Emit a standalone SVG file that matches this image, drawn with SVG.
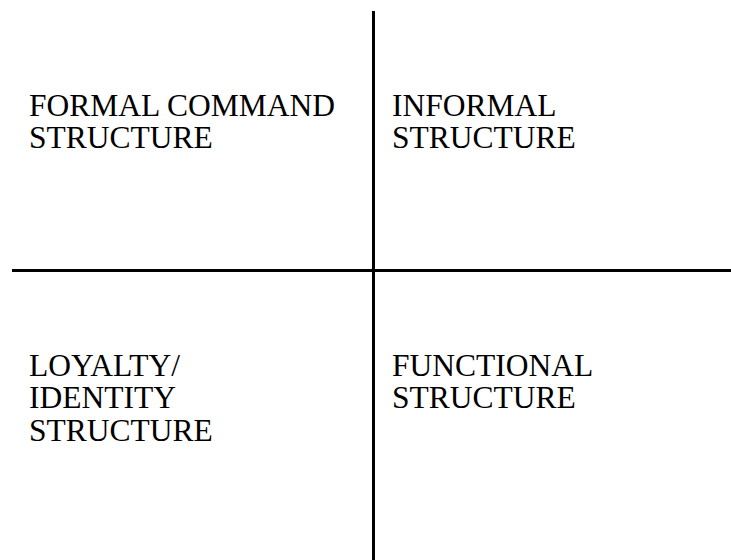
<svg xmlns="http://www.w3.org/2000/svg" width="731" height="560" viewBox="0 0 731 560">
<style>
.t{font-family:"Liberation Serif","Times New Roman",serif;font-size:31.5px;fill:#000}
.l{stroke:#000;stroke-width:3;fill:none}
</style>
<rect width="731" height="560" fill="#fff"/>
<g id="connectors">
<line class="l" x1="373.5" y1="11" x2="373.5" y2="560"/>
<line class="l" x1="12" y1="270.5" x2="731" y2="270.5"/>
</g>
<g id="formal"><text class="t" x="29" y="115.5">FORMAL COMMAND</text><text class="t" x="29" y="148">STRUCTURE</text></g>
<g id="informal"><text class="t" x="392" y="115.5">INFORMAL</text><text class="t" x="392" y="148">STRUCTURE</text></g>
<g id="loyalty"><text class="t" x="29" y="375.5">LOYALTY/</text><text class="t" x="29" y="408">IDENTITY</text><text class="t" x="29" y="440.5">STRUCTURE</text></g>
<g id="functional"><text class="t" x="392" y="375.5">FUNCTIONAL</text><text class="t" x="392" y="408">STRUCTURE</text></g>
</svg>
